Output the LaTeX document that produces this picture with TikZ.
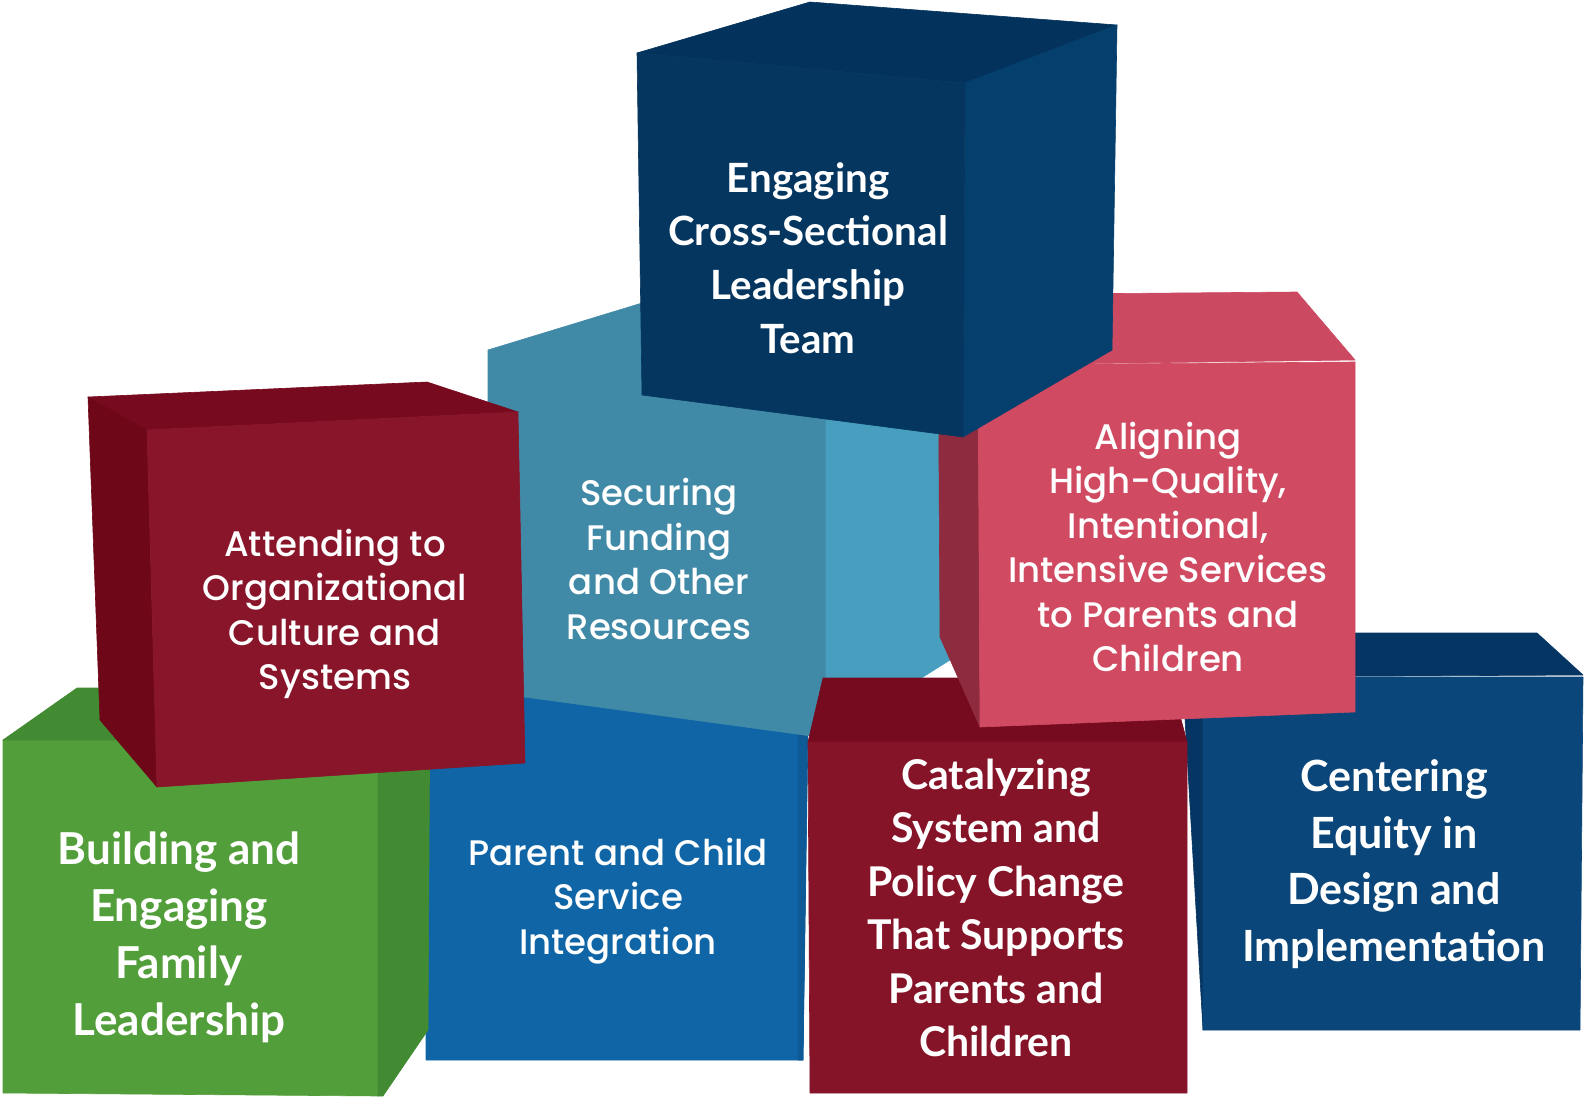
\documentclass[tikz,border=0pt]{standalone}
\usepackage{fontspec}
\usepackage{tikz}
\newfontfamily\geofont{Poppins Medium}
\newfontfamily\humfont{Lato}
\usepackage{xcolor}
\definecolor{grnF}{HTML}{529E3A}
\definecolor{grnS}{HTML}{438B33}
\definecolor{bluF}{HTML}{0F65A6}
\definecolor{bluS}{HTML}{0D5A96}
\definecolor{tealF}{HTML}{418AA7}
\definecolor{tealS}{HTML}{479EBF}
\definecolor{redF}{HTML}{89152A}
\definecolor{redT}{HTML}{770A1E}
\definecolor{redL}{HTML}{6E0819}
\definecolor{navF}{HTML}{04365F}
\definecolor{navT}{HTML}{03335C}
\definecolor{navR}{HTML}{043F6D}
\definecolor{pnkF}{HTML}{D04A61}
\definecolor{pnkT}{HTML}{CB4961}
\definecolor{pnkL}{HTML}{8E2B3F}
\definecolor{catF}{HTML}{861428}
\definecolor{catT}{HTML}{760B20}
\definecolor{cenF}{HTML}{0A4679}
\definecolor{cenT}{HTML}{053563}

\begin{document}
\begin{tikzpicture}[x=1pt,y=-1pt,
  face/.style={fill=#1,draw=#1,line width=0.6pt,line join=round},
  geo/.style={text=white,align=center,inner sep=0pt,font=\geofont\fontsize{35.5}{44.5}\selectfont},
  hum/.style={text=white,align=center,inner sep=0pt}]
\useasboundingbox (0,0) rectangle (1585,1099);

% blue block (bottom, under teal)
\path[face=bluF] (426,690) -- (808,690) -- (803,1060) -- (426,1060) -- cycle;
\path[face=bluS] (798,732) -- (808,732) -- (803,1060) -- (798,1060) -- cycle;
% teal block
\path[face=tealF] (488,350) -- (642,303) -- (826,305) -- (826,738) -- (488,692) -- cycle;
\path[face=tealS] (826,305) -- (945,300) -- (950,660) -- (826,738) -- cycle;
% green block
\path[face=grnF] (3,740) -- (378,740) -- (378,1096) -- (3,1093) -- cycle;
\path[face=grnS] (3,740) -- (77,688) -- (430,688) -- (378,740) -- cycle;
\path[face=grnS] (378,740) -- (430,688) -- (428,1030) -- (383,1096) -- (378,1096) -- cycle;
% red block left
\path[face=redT] (88,397) -- (427,382) -- (518,412) -- (147,430) -- cycle;
\path[face=redL] (88,397) -- (147,430) -- (157,787) -- (100,720) -- cycle;
\path[face=redF] (147,430) -- (518,412) -- (525,763) -- (157,787) -- cycle;
% centering block
\path[face=cenT] (1203,677) -- (1170,633) -- (1537,633) -- (1583,675) -- cycle;
\path[face=cenT] (1181,650) -- (1203,677) -- (1203,1030) -- cycle;
\path[face=cenF] (1203,677) -- (1583,677) -- (1580,1030) -- (1203,1030) -- cycle;
% catalyzing block
\path[face=catT] (808,742) -- (823,678) -- (1170,678) -- (1187,742) -- cycle;
\path[face=catF] (808,742) -- (1187,742) -- (1187,1093) -- (810,1093) -- cycle;
% pink block
\path[face=pnkL] (938,295) -- (978,365) -- (980,727) -- (940,637) -- cycle;
\path[face=pnkT] (938,295) -- (1297,292) -- (1355,360) -- (978,365) -- cycle;
\path[face=pnkF] (978,365) -- (1355,362) -- (1355,712) -- (980,727) -- cycle;
% navy block (top)
\path[face=navT] (637,53) -- (810,2) -- (1117,25) -- (965,83) -- cycle;
\path[face=navR] (965,83) -- (1117,25) -- (1112,350) -- (963,437) -- cycle;
\path[face=navF] (637,53) -- (965,83) -- (963,437) -- (642,395) -- cycle;

\node[hum,font=\humfont\bfseries\fontsize{40.3}{53.6}\selectfont] (t_lead) at (808,258) {Engaging\\Cross-Sectional\\Leadership\\Team};
\node[geo] (t_fund) at (659,559) {Securing\\Funding\\and Other\\Resources};
\node[geo] (t_cult) at (335,614) {Attending to\\Organizational\\Culture and\\Systems};
\node[geo] (t_serv) at (1168,547) {Aligning\\High-Quality,\\Intentional,\\Intensive Services\\to Parents and\\Children};
\node[hum,font=\humfont\bfseries\fontsize{44}{57}\selectfont] (t_fam) at (179,937) {Building and\\Engaging\\Family\\Leadership};
\node[geo] (t_intg) at (618,901) {Parent and Child\\Service\\Integration};
\node[hum,font=\humfont\bfseries\fontsize{41}{53.5}\selectfont] (t_pol) at (996,908) {Catalyzing\\System and\\Policy Change\\That Supports\\Parents and\\Children};
\node[hum,font=\humfont\bfseries\fontsize{43}{56.5}\selectfont] (t_eq) at (1394,864) {Centering\\Equity in\\Design and\\Implementation};
\end{tikzpicture}
\end{document}
